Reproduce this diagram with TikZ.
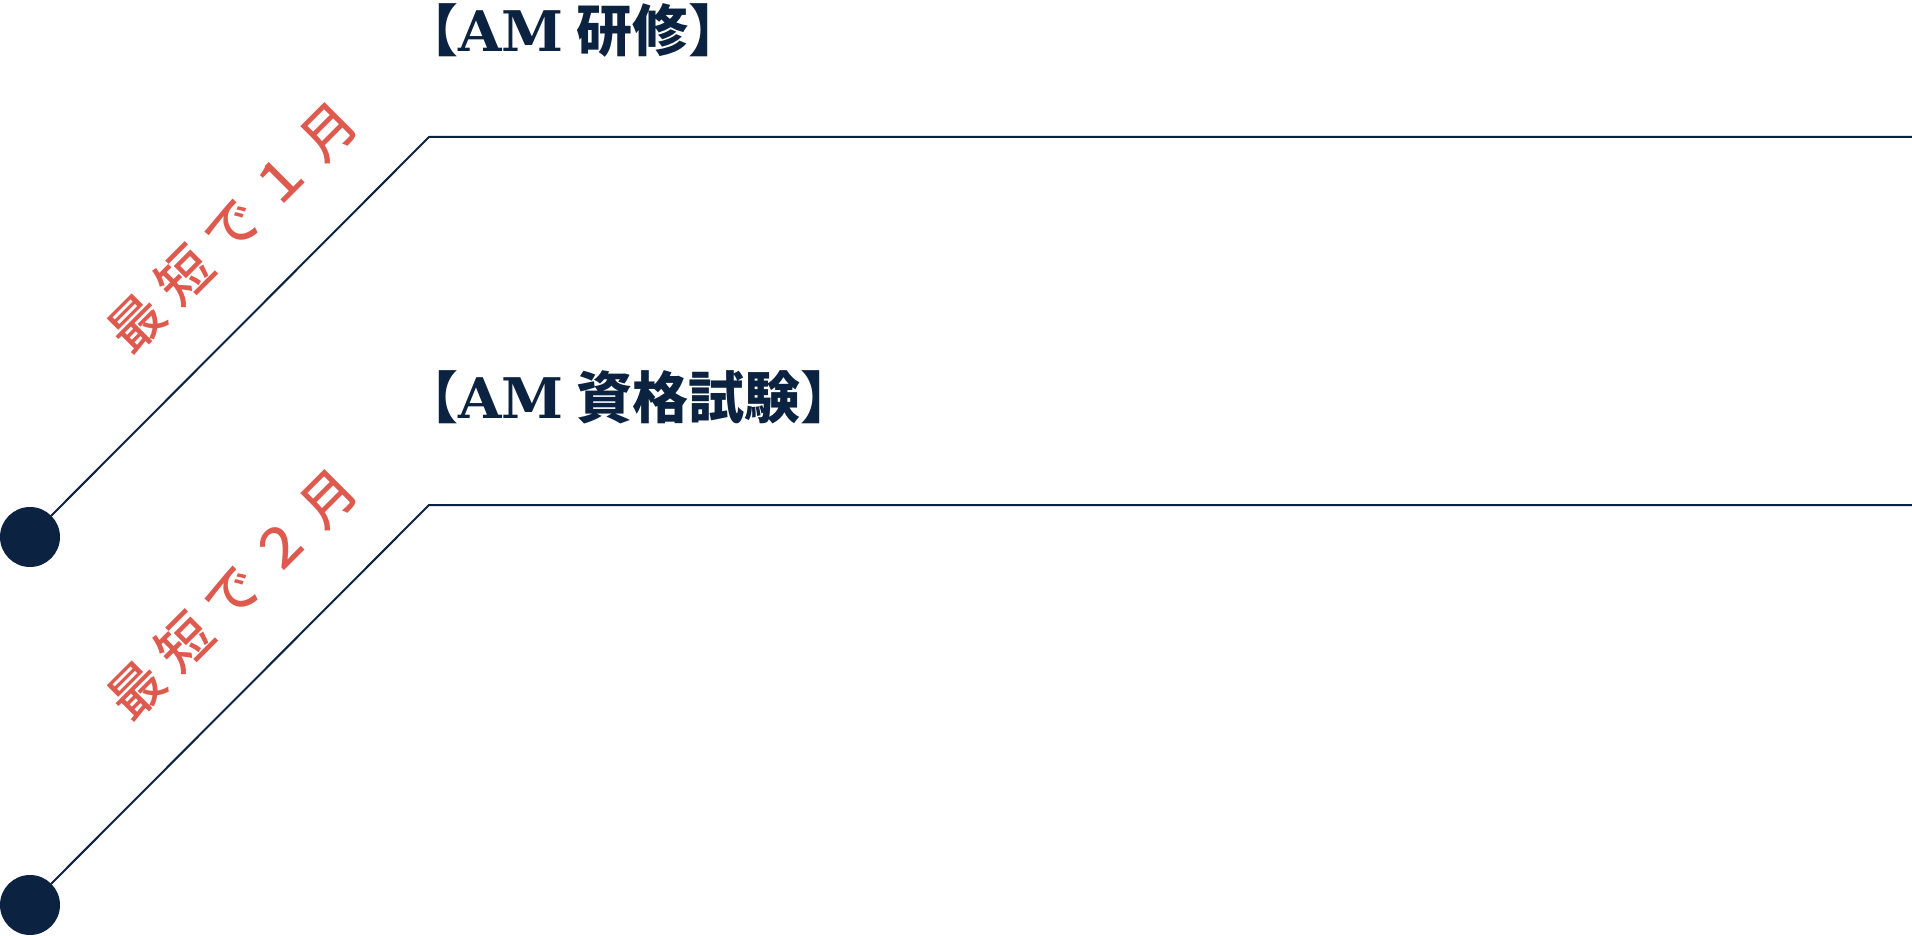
\documentclass[tikz,border=0pt]{standalone}
\usepackage{fontspec}
\usepackage{xcolor}
\usepackage{tikz}
\usetikzlibrary{positioning,calc}
\newfontfamily\jpfont{Noto Sans CJK JP}
\newfontfamily\jpmedium{Noto Sans CJK JP Medium}
\newfontfamily\slabfont{DejaVu Serif}
\definecolor{navy}{HTML}{0B2340}
\definecolor{accent}{HTML}{DE5A4F}
\newcommand{\tracked}{\kern14pt\relax}

\begin{document}
\begin{tikzpicture}[x=1pt,y=-1pt,
    dot/.style={circle,fill=navy,minimum size=60pt,inner sep=0pt},
    track/.style={draw=navy,line width=2pt},
    heading/.style={anchor=west,inner sep=0pt,text=navy,font=\jpfont\bfseries\fontsize{56}{64}\selectfont},
    period/.style={inner sep=0pt,rotate=45,text=accent,font=\jpmedium\fontsize{54}{60}\selectfont}]
    \useasboundingbox (0,0) rectangle (1912,936);
    \node[dot] (dotA) at (30,537) {};
    \node[dot] (dotB) at (30,905) {};
    \coordinate (bendA) at (429,137);
    \coordinate (bendB) at (429,505);
    \coordinate (endA) at (1912,137);
    \coordinate (endB) at (1912,505);
    \draw[track] (dotA) -- (bendA) -- (endA); % first step
    \draw[track] (dotB) -- (bendB) -- (endB); % second step

    \node[heading] (stepA) at (402,30) {【{\slabfont\bfseries AM} 研修】};
    \node[heading] (stepB) at (402,397) {【{\slabfont\bfseries AM} 資格試験】};
    \node[period] (timeA) at (232,227) {最\tracked 短\tracked で\tracked １\tracked 月};
    \node[period] (timeB) at (232,594) {最\tracked 短\tracked で\tracked ２\tracked 月};
\end{tikzpicture}
\end{document}
